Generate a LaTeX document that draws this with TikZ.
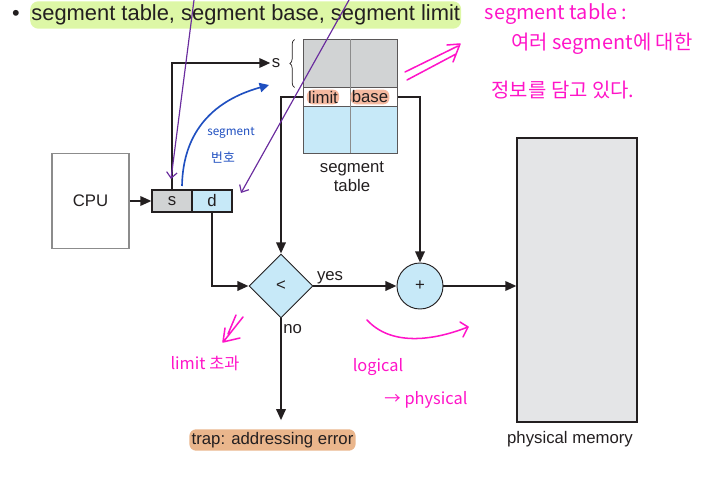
\documentclass[tikz,border=0pt]{standalone}
\usepackage{fontspec}
\setmainfont{Liberation Sans}
\newfontfamily\krfont{Noto Sans CJK KR}
\usetikzlibrary{arrows.meta,shapes.geometric,decorations.pathreplacing}

\definecolor{inkblack}{HTML}{231F20}
\definecolor{tblgray}{HTML}{D1D3D4}
\definecolor{tblblue}{HTML}{C7E9F8}
\definecolor{memgray}{HTML}{E4E5E7}
\definecolor{boxgray}{HTML}{8C8C8C}
\definecolor{hlgreen}{HTML}{DDF7A6}
\definecolor{hlsalmon}{HTML}{F5B9A0}
\definecolor{hltan}{HTML}{EAB68C}
\definecolor{pinkink}{HTML}{FF14C8}
\definecolor{purpleink}{HTML}{6A2C9E}
\definecolor{blueink}{HTML}{1F4FC0}

\tikzset{
  >={Triangle[length=9.5pt,width=8pt]},
  lbl/.style={font=\fontsize{14.3}{16.5}\selectfont, text=inkblack, inner sep=1pt},
  cell/.style={draw=inkblack!75, line width=0.8pt, minimum width=1.41cm, inner sep=0},
  flow/.style={draw=inkblack, line width=1.9pt, ->},
  note/.style={text=pinkink, font=\krfont\fontsize{17}{20}\selectfont, inner sep=0},
  pen/.style={draw=pinkink, line width=1.3pt, line cap=round, line join=round},
}

\begin{document}
\begin{tikzpicture}[x=0.03cm,y=-0.03cm]
  \useasboundingbox (0,0) rectangle (722,482);

  % title line
  \node[lbl, font=\fontsize{18.5}{22}\selectfont] (dot) at (16,15) {•};
  \node[lbl, font=\fontsize{18.7}{22}\selectfont, fill=hlgreen, rounded corners=7pt,
        anchor=west, inner xsep=1pt, inner ysep=3pt] (title) at (30,15)
        {segment table, segment base, segment limit};

  % boxes
  \node[draw=boxgray, line width=1.5pt, fill=white, minimum width=2.31cm, minimum height=2.85cm,
        lbl] (cpu) at (90.5,201) {CPU};
  \node[draw=inkblack, line width=0.9pt, fill=tblgray, minimum width=1.2cm, minimum height=0.66cm,
        lbl] (sbox) at (172,201) {s};
  \node[draw=inkblack, line width=0.9pt, fill=tblblue, minimum width=1.2cm, minimum height=0.66cm,
        lbl] (dbox) at (212,201) {d};
  \node[diamond, aspect=1, draw=inkblack, line width=0.8pt, fill=tblblue, minimum width=1.92cm,
        minimum height=1.92cm, inner sep=0, lbl] (cmp) at (281,286) {<};
  \node[circle, draw=inkblack, line width=0.8pt, fill=tblblue, minimum size=1.38cm, inner sep=0,
        lbl] (add) at (420,286) {+};
  \node[draw=inkblack, line width=0.9pt, fill=memgray, minimum width=3.6cm, minimum height=8.52cm]
        (mem) at (577,280) {};
  \node[lbl] (memlbl) at (570,439) {physical memory};
  \node[lbl, fill=hltan, rounded corners=6pt, inner xsep=2pt, inner ysep=2.5pt] (trap) at (272.5,440)
        {trap: addressing error};

  % frame round the table
  \draw[flow, <->] (cmp.north) -- (cmp.north |- 0,97) -- (add.north |- 0,97) -- (add.north);

  % segment table
  \node[cell, fill=tblgray, minimum height=1.44cm] (g1) at (326.5,63) {};
  \node[cell, fill=tblgray, minimum height=1.44cm] (g2) at (373.5,63) {};
  \node[cell, fill=white, minimum height=0.57cm] (lim) at (326.5,96.5) {};
  \node[cell, fill=white, minimum height=0.57cm] (bas) at (373.5,96.5) {};
  \node[cell, fill=tblblue, minimum height=1.41cm] (b1) at (326.5,129.5) {};
  \node[cell, fill=tblblue, minimum height=1.41cm] (b2) at (373.5,129.5) {};
  \draw[boxgray, line width=1.2pt] (g1.north east) -- (b1.south east);
  \node[lbl, fill=hlsalmon, rounded corners=5pt] (limtxt) at (323,97) {limit};
  \node[lbl, fill=hlsalmon, rounded corners=5pt] (bastxt) at (370,97) {base};
  \node[lbl, align=center] (tbllbl) at (352,177) {segment\\table};
  \draw[inkblack, line width=0.6pt, decorate, decoration={brace, amplitude=4pt}]
    (g1.south west) ++(-8,0) -- ++(0,-48);
  \node[lbl] (slbl) at (276,63) {s};

  % connectors
  \draw[flow] (cpu.east) -- (sbox.west);
  \draw[flow] (sbox.north) |- (slbl.west);
  \draw[flow] (dbox.south) |- (cmp.west);
  \draw[flow] (cmp.east) -- node[lbl, above, pos=0.2] (yes) {yes} (add.west);
  \draw[flow] (add.east) -- (add.east -| mem.west);
  \draw[flow, shorten >=7.5pt] (cmp.south) -- node[lbl, right, pos=0.1] (no) {no} (cmp.south |- trap.north);

  % notes: purple
  \coordinate (p1a) at (194,0);
  \coordinate (p1b) at (171,179);
  \coordinate (p2a) at (349,0);
  \coordinate (p2b) at (241,193);
  \draw[purpleink, line width=1pt, -{Straight Barb[length=5pt,width=9pt]}] (p1a) -- (p1b);
  \draw[purpleink, line width=1pt, -{Straight Barb[length=5pt,width=9pt]}] (p2a) -- (p2b);

  % notes: blue
  \coordinate (bl1) at (182,186);
  \coordinate (bl2) at (269,85);
  \draw[blueink, line width=1.4pt, -{Triangle[length=8pt,width=8pt]}]
    (bl1) .. controls (183,130) and (215,100) .. (bl2);
  \node[text=blueink, font=\krfont\fontsize{10}{12}\selectfont, inner sep=0] (segno1) at (231,133) {segment};
  \node[text=blueink, font=\krfont\fontsize{11}{13}\selectfont, inner sep=0] (segno2) at (223,158) {번호};

  % notes: pink
  \node[note] (n1) at (556,14) {segment table :};
  \node[note] (n2) at (602,44) {여러 segment에 대한};
  \node[note] (n3) at (563,90) {정보를 담고 있다.};
  \draw[pen] (405,72) -- (458,46) (407,80) -- (456,54) (447,45) -- (460,44) -- (453,62);
  \draw[pen] (243,317) -- (224,341) (236,315) -- (228,334) (225,328) -- (223,342) -- (240,338);
  \node[note, font=\krfont\fontsize{14}{16}\selectfont] (n4) at (205,363) {limit 초과};
  \draw[pen] (367,320) .. controls (390,345) and (430,342) .. (468,327);
  \draw[pen] (460,322) -- (468,327) -- (463,337);
  \node[note, font=\krfont\fontsize{14}{16}\selectfont] (n5) at (378,367) {logical};
  \node[note, font=\krfont\fontsize{14}{16}\selectfont] (n6) at (426,400) {→ physical};
\end{tikzpicture}
\end{document}
